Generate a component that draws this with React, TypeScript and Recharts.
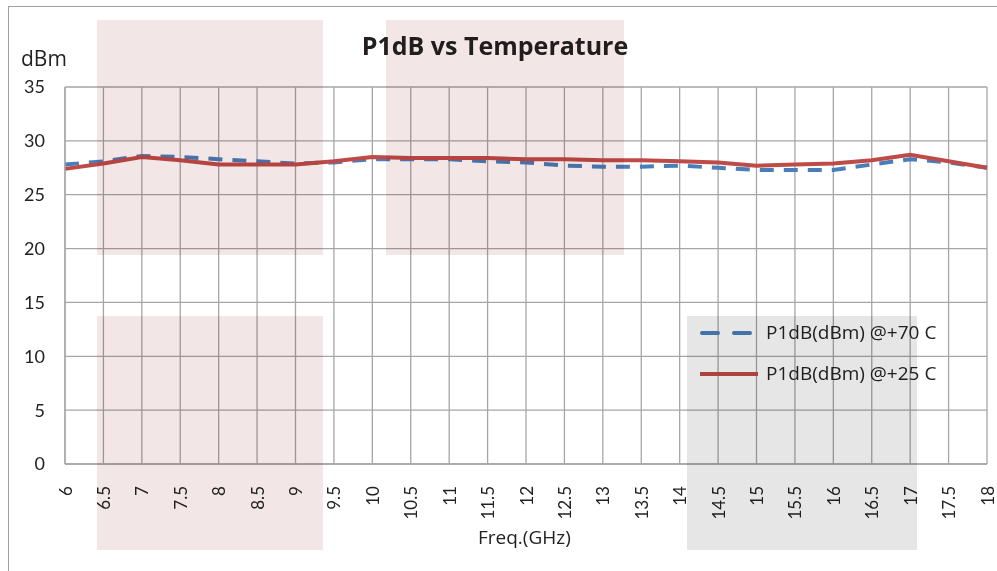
import React from 'react';
import { LineChart, Line, XAxis, YAxis, CartesianGrid } from 'recharts';

const freqs = [6, 6.5, 7, 7.5, 8, 8.5, 9, 9.5, 10, 10.5, 11, 11.5, 12, 12.5, 13, 13.5, 14, 14.5, 15, 15.5, 16, 16.5, 17, 17.5, 18];
const p1dbHot = [27.8, 28.1, 28.6, 28.5, 28.3, 28.1, 27.9, 28.0, 28.3, 28.3, 28.3, 28.1, 28.0, 27.7, 27.6, 27.6, 27.7, 27.5, 27.3, 27.3, 27.3, 27.8, 28.3, 28.0, 27.5];
const p1dbRoom = [27.4, 27.9, 28.5, 28.2, 27.8, 27.8, 27.8, 28.1, 28.5, 28.4, 28.4, 28.4, 28.3, 28.3, 28.2, 28.2, 28.1, 28.0, 27.7, 27.8, 27.9, 28.2, 28.7, 28.1, 27.5];
const yTicks = [0, 5, 10, 15, 20, 25, 30, 35];

const seriesHot = 'P1dB(dBm) @+70 C';
const seriesRoom = 'P1dB(dBm) @+25 C';

const data = freqs.map((f, i) => ({ freq: f, hot: p1dbHot[i], room: p1dbRoom[i] }));

const FONT = '"Open Sans", Lato, sans-serif';
const TICK_FONT = 'Lato, "Open Sans", sans-serif';

const XTick = (props: any) => {
  const { x, y, payload } = props;
  return (
    <text
      x={x}
      y={y + 14}
      transform={`rotate(-90 ${x} ${y + 14})`}
      textAnchor="end"
      dominantBaseline="central"
      fontSize={17}
      fill="#222"
      fontFamily={TICK_FONT}
    >
      {payload.value}
    </text>
  );
};

const overlays = [
  { left: 97, top: 20, width: 226, height: 235, color: '#f3e6e6' },
  { left: 386, top: 20, width: 238, height: 235, color: '#f3e6e6' },
  { left: 97, top: 316, width: 226, height: 234, color: '#f3e6e6' },
  { left: 687, top: 316, width: 230, height: 234, color: '#e6e6e6' },
];

export default function App() {
  return (
    <div style={{ position: 'absolute', left: 0, top: 0, width: 997, height: 571, background: '#fff', overflow: 'hidden', fontFamily: FONT, isolation: 'isolate' }}>
      <div style={{ position: 'absolute', left: 8, top: 6, width: 1000, height: 600, borderLeft: '1.5px solid #a0a0a0', borderTop: '1.5px solid #a0a0a0' }} />
      <LineChart width={997} height={571} data={data} margin={{ top: 87, right: 10, bottom: 47, left: 25 }}>
        <CartesianGrid stroke="#a6a6a6" strokeWidth={1.3} horizontal vertical />
        <XAxis
          dataKey="freq"
          type="number"
          domain={[6, 18]}
          ticks={freqs}
          interval={0}
          height={60}
          tick={<XTick />}
          tickLine={false}
          axisLine={{ stroke: '#a6a6a6', strokeWidth: 1.3 }}
        />
        <YAxis
          domain={[0, 35]}
          ticks={yTicks}
          width={40}
          tickLine={false}
          axisLine={{ stroke: '#a6a6a6', strokeWidth: 1.3 }}
          tick={{ fontSize: 18, fill: '#222', fontFamily: TICK_FONT }}
          tickMargin={14}
        />
        <Line
          type="linear"
          dataKey="hot"
          name={seriesHot}
          stroke="#4a7ebb"
          strokeWidth={4}
          strokeDasharray="14 10"
          dot={false}
          isAnimationActive={false}
        />
        <Line
          type="linear"
          dataKey="room"
          name={seriesRoom}
          stroke="#be4b48"
          strokeWidth={4}
          dot={false}
          isAnimationActive={false}
        />
      </LineChart>
      <div style={{ position: 'absolute', left: 0, top: 28, width: 990, textAlign: 'center', fontSize: 25, fontWeight: 700, color: '#231f20' }}>
        P1dB vs Temperature
      </div>
      <div style={{ position: 'absolute', left: 21, top: 44, fontSize: 21, color: '#222' }}>dBm</div>
      <div style={{ position: 'absolute', left: 478, top: 524, fontSize: 19, color: '#222' }}>Freq.(GHz)</div>
      <div style={{ position: 'absolute', left: 700, top: 312, fontSize: 19, color: '#222', lineHeight: '41px' }}>
        <div style={{ display: 'flex', alignItems: 'center' }}>
          <svg width={60} height={10} style={{ marginRight: 6 }}>
            <line x1={2} y1={5} x2={58} y2={5} stroke="#4a7ebb" strokeWidth={4} strokeDasharray="16 16" strokeLinecap="round" />
          </svg>
          {seriesHot}
        </div>
        <div style={{ display: 'flex', alignItems: 'center' }}>
          <svg width={60} height={10} style={{ marginRight: 6 }}>
            <line x1={0} y1={5} x2={58} y2={5} stroke="#be4b48" strokeWidth={4} />
          </svg>
          {seriesRoom}
        </div>
      </div>
      {overlays.map((o, i) => (
        <div key={i} style={{ position: 'absolute', left: o.left, top: o.top, width: o.width, height: o.height, background: o.color, mixBlendMode: 'multiply', pointerEvents: 'none' }} />
      ))}
    </div>
  );
}
